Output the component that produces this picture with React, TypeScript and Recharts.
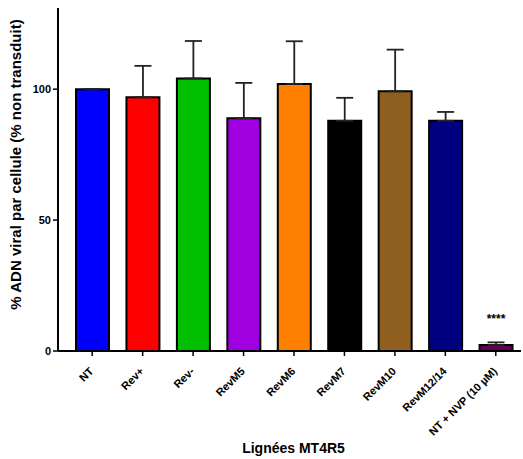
import React from 'react';
import { BarChart, Bar, XAxis, YAxis, ErrorBar, Cell, LabelList } from 'recharts';

const lignees = ['NT', 'Rev+', 'Rev-', 'RevM5', 'RevM6', 'RevM7', 'RevM10', 'RevM12/14', 'NT + NVP (10 µM)'];
const moyennes = [100, 96.9, 104.1, 88.9, 102, 87.9, 99.2, 87.9, 2.3];
const sem = [0, 12, 14.3, 13.5, 16.3, 8.8, 15.9, 3.4, 1];
const signif = ['', '', '', '', '', '', '', '', '****'];
const couleurs = ['#0000ff', '#ff0000', '#00c000', '#a000e0', '#ff8000', '#000000', '#8f5f20', '#000080', '#600050'];

const data = lignees.map((name, i) => ({
  name,
  value: moyennes[i],
  err: [0, sem[i]],
  sig: signif[i],
}));

const font = 'Arial, "Liberation Sans", sans-serif';

const XTick = (props: any) => {
  const { x, y, payload } = props;
  return (
    <g transform={`translate(${x + 2},${y + 14})`}>
      <text
        textAnchor="end"
        transform="rotate(-45)"
        fontFamily={font}
        fontWeight="bold"
        fontSize={11}
        fill="#000"
      >
        {payload.value}
      </text>
    </g>
  );
};

export default function App() {
  return (
    <div style={{ position: 'absolute', left: 0, top: 0, background: '#fff' }}>
      <BarChart
        width={523}
        height={459}
        data={data}
        margin={{ top: 8, right: 2, left: 0, bottom: 0 }}
        barCategoryGap={0}
      >
        <XAxis
          dataKey="name"
          interval={0}
          height={108}
          padding={{ left: 9, right: 0 }}
          axisLine={{ stroke: '#000', strokeWidth: 2 }}
          tickLine={{ stroke: '#000', strokeWidth: 1.5 }}
          tickSize={5}
          tick={<XTick />}
          label={{
            value: 'Lignées MT4R5',
            position: 'insideBottom',
            offset: 6,
            dx: 4,
            style: { fontFamily: font, fontWeight: 'bold', fontSize: 14, fill: '#000' },
          }}
        />
        <YAxis
          domain={[0, 131]}
          ticks={[0, 50, 100]}
          width={58}
          allowDataOverflow
          axisLine={{ stroke: '#000', strokeWidth: 2 }}
          tickLine={{ stroke: '#000', strokeWidth: 1.5 }}
          tickSize={5}
          tick={{ fontFamily: font, fontWeight: 'bold', fontSize: 11, fill: '#000' }}
          label={{
            value: '% ADN viral par cellule (% non transduit)',
            angle: -90,
            position: 'insideLeft',
            offset: 16,
            dy: -15,
            style: { fontFamily: font, fontWeight: 'bold', fontSize: 15, fill: '#000', textAnchor: 'middle' },
          }}
        />
        <Bar dataKey="value" barSize={33} isAnimationActive={false} stroke="#000" strokeWidth={2}>
          {data.map((d, i) => (
            <Cell key={d.name} fill={couleurs[i]} stroke="#000" strokeWidth={2} />
          ))}
          <ErrorBar dataKey="err" width={8.5} stroke="#222" strokeWidth={1.8} direction="y" />
          <LabelList
            dataKey="sig"
            position="top"
            offset={22}
            style={{ fontFamily: font, fontWeight: 'bold', fontSize: 12, fill: '#000' }}
          />
        </Bar>
      </BarChart>
    </div>
  );
}
